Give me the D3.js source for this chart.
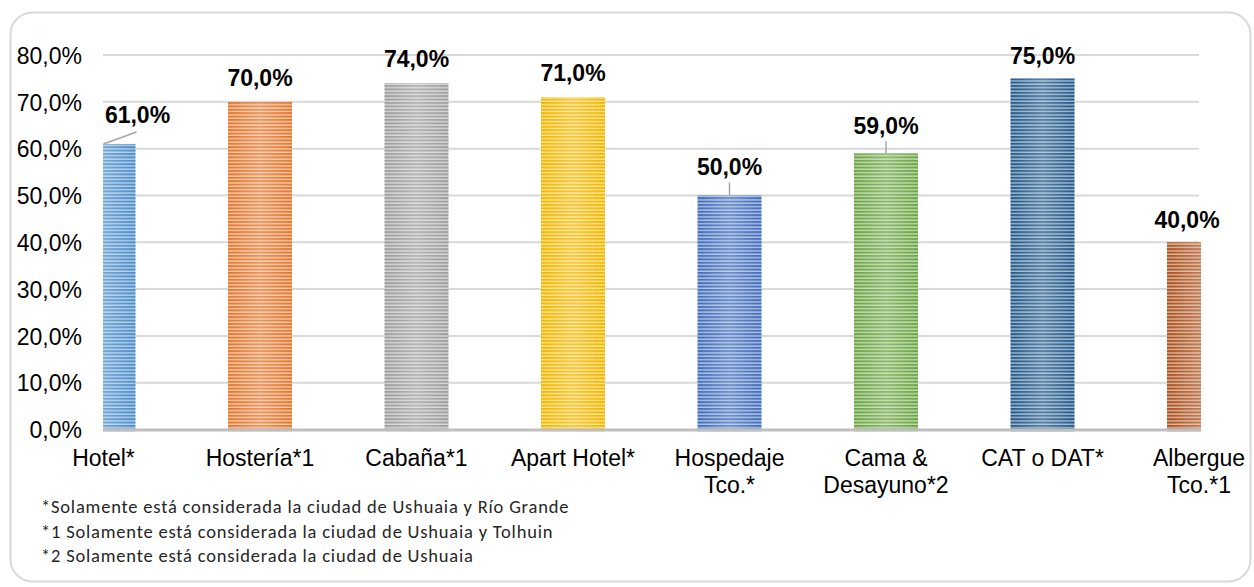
<!DOCTYPE html>
<html>
<head>
<meta charset="utf-8">
<script src="https://cdn.jsdelivr.net/npm/d3@7/dist/d3.min.js"></script>
<style>
  html, body { margin: 0; padding: 0; background: #ffffff; }
  svg { display: block; }
</style>
</head>
<body>
<svg id="chart" width="1254" height="587"></svg>
<script>
// ---- data ----
const categories = ["Hotel*", "Hostería*1", "Cabaña*1", "Apart Hotel*", "Hospedaje Tco.*", "Cama & Desayuno*2", "CAT o DAT*", "Albergue Tco.*1"];
const categoryLines = [["Hotel*"], ["Hostería*1"], ["Cabaña*1"], ["Apart Hotel*"], ["Hospedaje", "Tco.*"], ["Cama &", "Desayuno*2"], ["CAT o DAT*"], ["Albergue", "Tco.*1"]];
const values = [0.61, 0.70, 0.74, 0.71, 0.50, 0.59, 0.75, 0.40];
const tickValues = [0, 0.1, 0.2, 0.3, 0.4, 0.5, 0.6, 0.7, 0.8];
const barColors = ["#4f93d3", "#ed7d31", "#a5a5a5", "#ffc000", "#4472c4", "#70ad47", "#255e91", "#b3541e"];
const footnotes = [
  "*Solamente está considerada la ciudad de Ushuaia y Río Grande",
  "*1 Solamente está considerada la ciudad de Ushuaia y Tolhuin",
  "*2 Solamente está considerada la ciudad de Ushuaia"
];

// ---- layout ----
const W = 1254, H = 587;
const plotLeft = 103, plotRight = 1199, plotTop = 55, plotBottom = 429.5;
const barWidth = 64;
const fmt = v => d3.format(".1f")(v * 100).replace(".", ",") + "%";

const svg = d3.select("#chart");
const defs = svg.append("defs");

// frame
svg.append("rect")
  .attr("x", 10.5).attr("y", 12.5)
  .attr("width", W - 14).attr("height", H - 18)
  .attr("rx", 22).attr("ry", 22)
  .attr("fill", "#ffffff").attr("stroke", "#d9d9d9").attr("stroke-width", 2);

const x = d3.scalePoint().domain(categories).range([plotLeft + 0.5, plotRight]).padding(0);
const y = d3.scaleLinear().domain([0, 0.8]).range([plotBottom, plotTop]);

// gridlines
svg.append("g")
  .selectAll("line")
  .data(tickValues.filter(d => d > 0))
  .join("line")
  .attr("x1", plotLeft).attr("x2", plotRight)
  .attr("y1", d => y(d)).attr("y2", d => y(d))
  .attr("stroke", "#d9d9d9").attr("stroke-width", 2);

// y axis
const yAxis = d3.axisLeft(y).tickValues(tickValues).tickFormat(fmt).tickSize(0).tickPadding(0);
const yg = svg.append("g").attr("transform", `translate(82,0)`).call(yAxis);
yg.select(".domain").remove();
yg.selectAll("text")
  .attr("font-family", "'Liberation Sans', Arial, sans-serif")
  .attr("font-size", 23)
  .attr("fill", "#000000")
  .attr("dy", "0.36em");

// patterns
const lighten = (c, t) => d3.interpolateRgb(c, "#ffffff")(t);
const darken = (c, t) => d3.interpolateRgb(c, "#000000")(t);
barColors.forEach((c, i) => {
  const p = defs.append("pattern")
    .attr("id", "pat" + i)
    .attr("patternUnits", "userSpaceOnUse")
    .attr("x", 0).attr("y", 0)
    .attr("width", 8).attr("height", 3.4);
  p.append("rect").attr("width", 8).attr("height", 3.4).attr("fill", darken(c, 0.05));
  p.append("rect").attr("y", 2).attr("width", 8).attr("height", 1.4).attr("fill", lighten(c, 0.55));
});
const g = defs.append("linearGradient").attr("id", "sheen").attr("x1", 0).attr("x2", 1).attr("y1", 0).attr("y2", 0);
g.append("stop").attr("offset", "0%").attr("stop-color", "#ffffff").attr("stop-opacity", 0.0);
g.append("stop").attr("offset", "50%").attr("stop-color", "#ffffff").attr("stop-opacity", 0.25);
g.append("stop").attr("offset", "100%").attr("stop-color", "#ffffff").attr("stop-opacity", 0.0);

defs.append("clipPath").attr("id", "plotclip")
  .append("rect").attr("x", plotLeft).attr("y", 0).attr("width", plotRight - plotLeft + 2).attr("height", plotBottom + 3);

const bars = svg.append("g").attr("clip-path", "url(#plotclip)");
bars.selectAll("rect.bar")
  .data(values)
  .join("rect").attr("class", "bar")
  .attr("x", (d, i) => x(categories[i]) - barWidth / 2)
  .attr("y", d => y(d))
  .attr("width", barWidth)
  .attr("height", d => plotBottom + 2 - y(d))
  .attr("fill", (d, i) => `url(#pat${i})`);
bars.selectAll("rect.sheen")
  .data(values)
  .join("rect").attr("class", "sheen")
  .attr("x", (d, i) => x(categories[i]) - barWidth / 2)
  .attr("y", d => y(d))
  .attr("width", barWidth)
  .attr("height", d => plotBottom + 2 - y(d))
  .attr("fill", "url(#sheen)");

// x axis line
svg.append("line")
  .attr("x1", plotLeft).attr("x2", plotRight + 2)
  .attr("y1", plotBottom + 0.5).attr("y2", plotBottom + 0.5)
  .attr("stroke", "#bfbfbf").attr("stroke-width", 3);

// category labels
const catG = svg.append("g")
  .attr("font-family", "'Liberation Sans', Arial, sans-serif")
  .attr("font-size", 23).attr("fill", "#000000").attr("text-anchor", "middle");
categoryLines.forEach((lines, i) => {
  const t = catG.append("text").attr("x", x(categories[i])).attr("y", 466);
  lines.forEach((ln, j) => {
    t.append("tspan").attr("x", x(categories[i])).attr("dy", j === 0 ? 0 : 27).text(ln);
  });
});

// data labels (layout adjustments for leader-lined labels)
const labelLayout = [
  { dx: 34, gap: 21, leader: "diag" },
  { dx: 0, gap: 16 },
  { dx: 0, gap: 16 },
  { dx: 0, gap: 16 },
  { dx: 0, gap: 20, leader: "vert" },
  { dx: 0, gap: 19, leader: "vert" },
  { dx: 0, gap: 14 },
  { dx: -12, gap: 14 }
];
const lblG = svg.append("g")
  .attr("font-family", "'Liberation Sans', Arial, sans-serif")
  .attr("font-size", 23).attr("font-weight", "bold").attr("fill", "#000000").attr("text-anchor", "middle");
values.forEach((v, i) => {
  const L = labelLayout[i];
  const cx = x(categories[i]) + L.dx;
  const by = y(v) - L.gap;
  lblG.append("text").attr("x", cx).attr("y", by).text(fmt(v));
  if (L.leader === "vert") {
    svg.append("line").attr("x1", cx).attr("x2", cx).attr("y1", by + 7).attr("y2", y(v))
      .attr("stroke", "#a6a6a6").attr("stroke-width", 1.5);
  } else if (L.leader === "diag") {
    svg.append("line").attr("x1", x(categories[i])).attr("x2", cx - 1).attr("y1", y(v)).attr("y2", by + 9)
      .attr("stroke", "#a6a6a6").attr("stroke-width", 1.5);
  }
});

// footnotes
svg.append("g")
  .attr("font-family", "Carlito, Calibri, Lato, sans-serif")
  .attr("font-size", 18.5).attr("letter-spacing", "0.8px").attr("fill", "#262626")
  .selectAll("text").data(footnotes).join("text")
  .attr("x", 41).attr("y", (d, i) => 513 + i * 24.5)
  .text(d => d);
</script>
</body>
</html>
